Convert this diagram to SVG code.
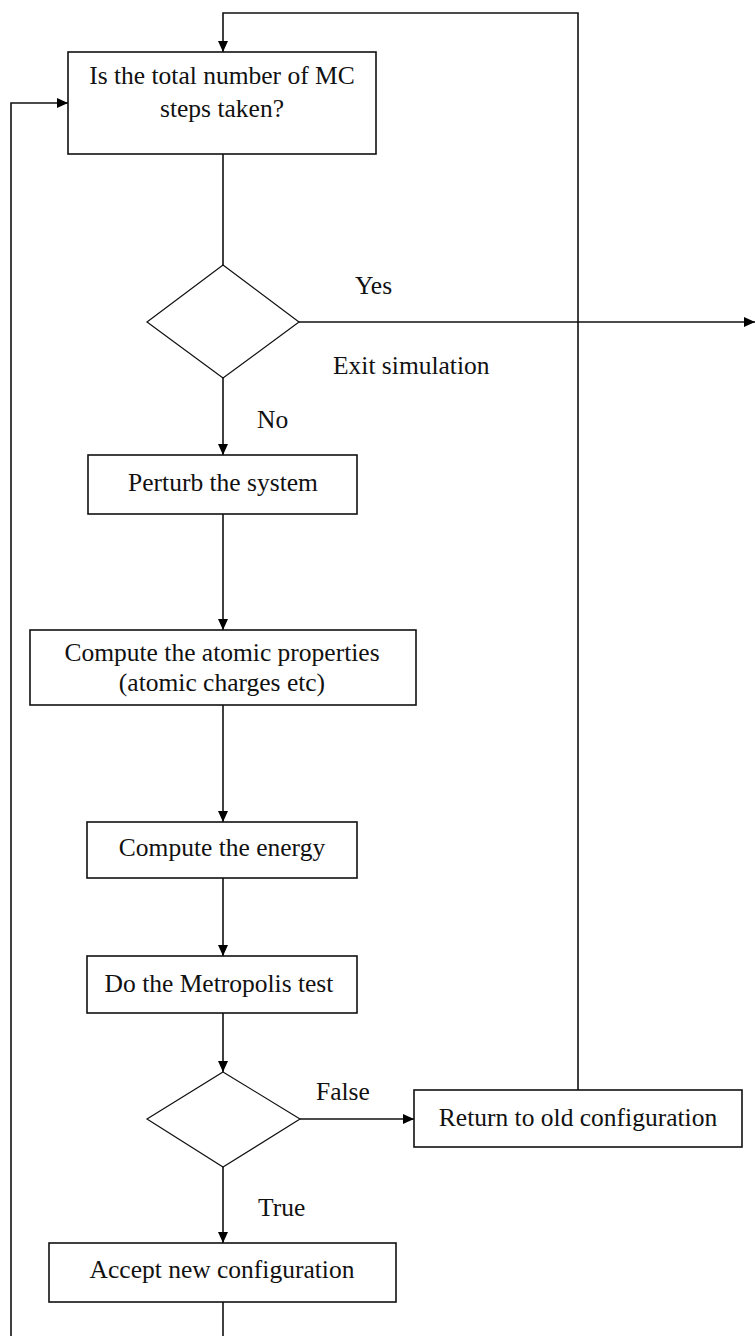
<svg xmlns="http://www.w3.org/2000/svg" width="755" height="1336" viewBox="0 0 755 1336">
<style>
.box{fill:#fff;stroke:#111;stroke-width:1.6}
.dia{fill:#fff;stroke:#111;stroke-width:1.2}
.ln{fill:none;stroke:#111;stroke-width:1.6}
text{font-family:"Liberation Serif","Times New Roman",serif;font-size:25.5px;fill:#111}
.c{text-anchor:middle}
</style>
<defs>
<marker id="ah" viewBox="0 0 11 10" refX="11" refY="5" markerWidth="11" markerHeight="10" markerUnits="userSpaceOnUse" orient="auto">
<path d="M0,0 L11,5 L0,10 Z" fill="#000"/>
</marker>
</defs>
<rect width="755" height="1336" fill="#fff"/>
<g id="connectors">
<path class="ln" d="M223,154 V265"/>
<path class="ln" d="M223,378 V455" marker-end="url(#ah)"/>
<path class="ln" d="M299,322 H755" marker-end="url(#ah)"/>
<path class="ln" d="M223,514 V630" marker-end="url(#ah)"/>
<path class="ln" d="M223,705 V822" marker-end="url(#ah)"/>
<path class="ln" d="M223,878 V956" marker-end="url(#ah)"/>
<path class="ln" d="M223,1013 V1072" marker-end="url(#ah)"/>
<path class="ln" d="M300,1119 H414" marker-end="url(#ah)"/>
<path class="ln" d="M223,1167 V1243" marker-end="url(#ah)"/>
<path class="ln" d="M578,1090 V13 H223 V52" marker-end="url(#ah)"/>
<path class="ln" d="M223,1302 V1336"/>
<path class="ln" d="M11,1336 V103 H68" marker-end="url(#ah)"/>
<text x="355" y="294">Yes</text>
<text x="333" y="374">Exit simulation</text>
<text x="257" y="428">No</text>
<text x="316" y="1100">False</text>
<text x="258" y="1216">True</text>
</g>
<g id="start">
<rect class="box" x="68" y="52" width="308" height="102"/>
<text class="c" x="222" y="84">Is the total number of MC</text>
<text class="c" x="222" y="117">steps taken?</text>
</g>
<g id="decision1">
<polygon class="dia" points="223,265 299,322 223,378 147,322"/>
</g>
<g id="perturb">
<rect class="box" x="88" y="455" width="269" height="59"/>
<text class="c" x="223" y="491">Perturb the system</text>
</g>
<g id="atomic">
<rect class="box" x="30" y="630" width="386" height="75"/>
<text class="c" x="222" y="661">Compute the atomic properties</text>
<text class="c" x="222" y="691">(atomic charges etc)</text>
</g>
<g id="energy">
<rect class="box" x="87" y="822" width="270" height="56"/>
<text class="c" x="222" y="856">Compute the energy</text>
</g>
<g id="metropolis">
<rect class="box" x="87" y="956" width="270" height="57"/>
<text class="c" x="219" y="992">Do the Metropolis test</text>
</g>
<g id="decision2">
<polygon class="dia" points="223,1072 300,1119 223,1167 147,1119"/>
</g>
<g id="return">
<rect class="box" x="414" y="1090" width="328" height="57"/>
<text class="c" x="578" y="1126">Return to old configuration</text>
</g>
<g id="accept">
<rect class="box" x="49" y="1243" width="347" height="59"/>
<text class="c" x="222" y="1278">Accept new configuration</text>
</g>
</svg>
